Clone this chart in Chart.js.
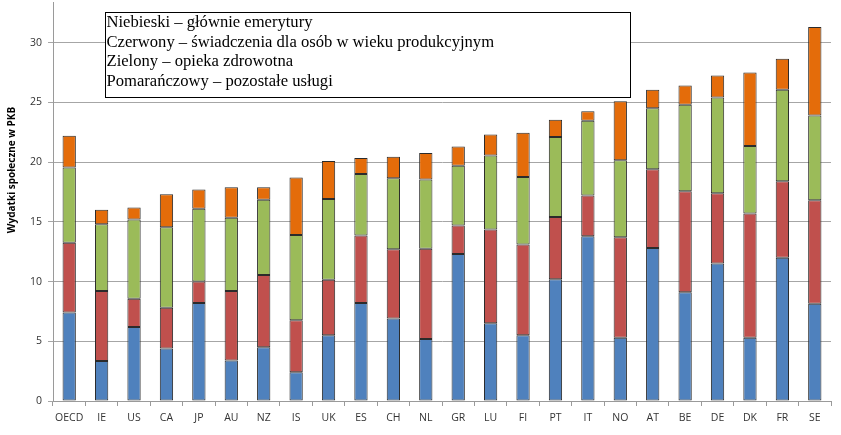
<!DOCTYPE html>
<html>
<head>
<meta charset="utf-8">
<script src="https://cdn.jsdelivr.net/npm/chart.js@4.4.1/dist/chart.umd.min.js"></script>
<style>
html,body{margin:0;padding:0;background:#fff}
#wrap{width:841px;height:435px}
</style>
</head>
<body>
<div id="wrap"><canvas id="chart" width="841" height="435"></canvas></div>
<script>
/* =====================================================
DATA
===================================================== */

const countries=["OECD","IE","US","CA","JP","AU","NZ","IS","UK","ES","CH","NL","GR","LU","FI","PT","IT","NO","AT","BE","DE","DK","FR","SE"]

// blue - pensions
const pensions=[7.4,3.35,6.2,4.4,8.2,3.4,4.5,2.4,5.5,8.2,6.9,5.2,12.3,6.5,5.5,10.2,13.8,5.3,12.8,9.1,11.5,5.3,12.0,8.15]
// red - working age benefits
const workingAge=[5.85,5.85,2.35,3.4,1.8,5.8,6.05,4.35,4.65,5.65,5.8,7.55,2.4,7.85,7.6,5.2,3.4,8.4,6.6,8.45,5.9,10.4,6.4,8.65]
// green - health
const health=[6.3,5.6,6.65,6.75,6.1,6.15,6.3,7.15,6.75,5.15,5.95,5.8,5.0,6.2,5.65,6.7,6.25,6.45,5.1,7.25,8.0,5.65,7.65,7.1]
// orange - other services
const otherServices=[2.65,1.2,1.0,2.75,1.6,2.55,1.05,4.8,3.2,1.35,1.8,2.2,1.6,1.75,3.7,1.45,0.8,4.95,1.55,1.6,1.85,6.15,2.6,7.4]

const legendLines=[
"Niebieski – głównie emerytury",
"Czerwony – świadczenia dla osób w wieku produkcyjnym",
"Zielony – opieka zdrowotna",
"Pomarańczowy – pozostałe usługi"
]

const yTitle="Wydatki społeczne w PKB"


/* =====================================================
TEXT BOX + AXIS TITLE
===================================================== */

const overlay={
id:"overlay",
afterDraw(chart){
const c=chart.ctx
c.save()

// rotated y axis title
c.translate(12,170)
c.rotate(-Math.PI/2)
c.font="bold 10px 'Open Sans', 'DejaVu Sans', sans-serif"
c.fillStyle="#000"
c.textAlign="center"
c.textBaseline="middle"
c.fillText(yTitle,0,0)
c.setTransform(1,0,0,1,0,0)

// legend text box
c.fillStyle="#fff"
c.fillRect(105,12.5,526,85)
c.strokeStyle="#000"
c.lineWidth=1
c.strokeRect(105.5,12.5,525,85)

c.fillStyle="#000"
c.font="16.6px 'Liberation Serif', 'Times New Roman', serif"
c.textAlign="left"
c.textBaseline="middle"
legendLines.forEach((t,i)=>{
c.fillText(t,106.5,23+i*19.5)
})

c.restore()
}
}


/* =====================================================
CHART
===================================================== */

const barStyle={
borderColor:"#2b2b2b",
borderWidth:1,
borderSkipped:false,
barPercentage:0.41,
categoryPercentage:1
}

new Chart(document.getElementById("chart"),{
type:"bar",
data:{
labels:countries,
datasets:[
{label:"pensions",data:pensions,backgroundColor:"#4f81bd",...barStyle},
{label:"working age",data:workingAge,backgroundColor:"#c0504d",...barStyle},
{label:"health",data:health,backgroundColor:"#9bbb59",...barStyle},
{label:"other",data:otherServices,backgroundColor:"#e46c0a",...barStyle}
]
},
options:{
responsive:false,
animation:false,
layout:{padding:{left:0,right:10,top:2,bottom:0}},
plugins:{
legend:{display:false},
tooltip:{enabled:false}
},
scales:{
x:{
stacked:true,
grid:{display:true,drawOnChartArea:false,tickLength:5,color:"#9a9a9a"},
border:{color:"#9a9a9a"},
ticks:{
color:"#333",
padding:6,
maxRotation:0,
font:{family:"'Open Sans', 'DejaVu Sans', sans-serif",size:10.5}
},
afterFit(s){s.height=34;s.paddingLeft=0;s.paddingRight=0}
},
y:{
stacked:true,
min:0,
max:33.4,
grid:{color:"#a6a6a6",tickLength:5},
border:{color:"#9a9a9a"},
ticks:{
stepSize:5,
includeBounds:false,
color:"#333",
padding:6,
font:{family:"'Open Sans', 'DejaVu Sans', sans-serif",size:10.5}
},
afterFit(s){s.width=53;s.paddingTop=0;s.paddingBottom=0}
}
}
},
plugins:[overlay]
})
</script>
</body>
</html>
